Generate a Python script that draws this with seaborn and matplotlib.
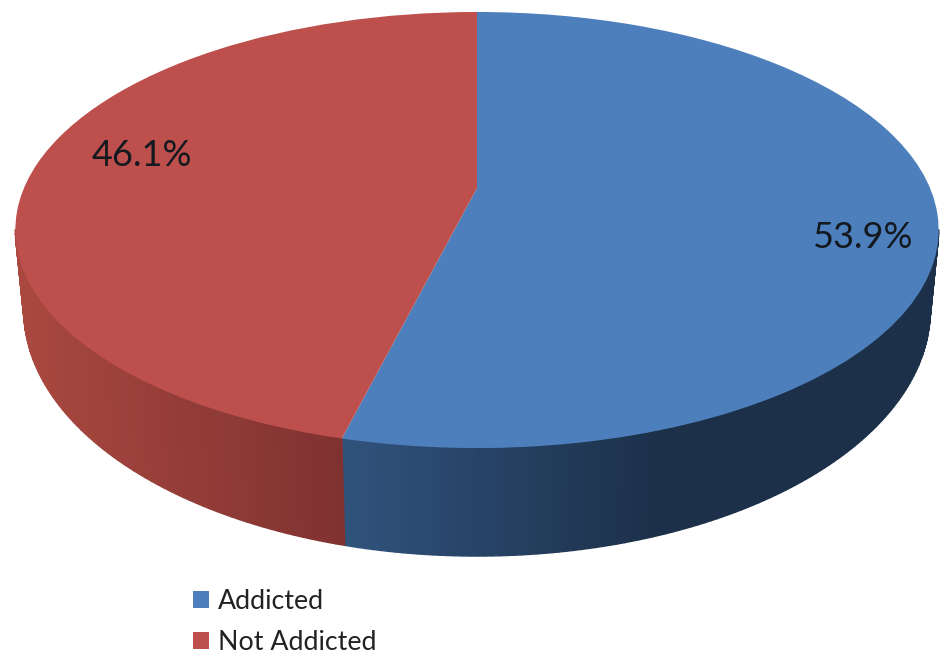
import numpy as np
import matplotlib
matplotlib.use('Agg')
import matplotlib.pyplot as plt
from matplotlib.transforms import Transform
import seaborn as sns

# Chart data
categories = ['Addicted', 'Not Addicted']
shares = [53.9, 46.1]
top_colors = ['#4c7fbb', '#bd4f4c']
# wall shading, near the front seam -> far from it
wall_colors = [['#30537d', '#1c3049'], ['#7f3231', '#a9483f']]


class TiltedDisc(Transform):
    # projective view of the unit disc, gives the office style 3d look
    input_dims = 2
    output_dims = 2

    def __init__(self, cx, k, a, b, c):
        super().__init__()
        self.cx, self.k, self.a, self.b, self.c = cx, k, a, b, c

    def transform_non_affine(self, values):
        u, v = values[:, 0], values[:, 1]
        d = 1 + self.c * v
        return np.column_stack([self.cx + self.k * u / d, (self.a * v + self.b) / d])


sns.set_theme(style='white')
plt.rcParams['font.family'] = ['Lato', 'DejaVu Sans']

fig = plt.figure(figsize=(9.46, 6.56), dpi=100)
ax = fig.add_axes([0, 0, 1, 1])

top_view = TiltedDisc(477, 453, -173.7, 188, 0.1927)
base_view = TiltedDisc(477, 445, -187.1, 263.3, 0.19)

wedges, _ = ax.pie(shares, colors=top_colors, startangle=90, counterclock=False)
for w in wedges:
    w.set_transform(top_view + ax.transData)
    w.set_zorder(5)
    w.set_linewidth(0)

ax.set_aspect('auto')
ax.set_xlim(0, 946)
ax.set_ylim(656, 0)

# side wall, thin strips between the top rim and the base rim
seam = 90 - 360 * shares[0] / sum(shares)
spans = [np.linspace(seam, -11, 120), np.linspace(seam, -169, 70)]
for span, (near, far) in zip(spans, wall_colors):
    near_rgb, far_rgb = np.array(matplotlib.colors.to_rgb(near)), np.array(matplotlib.colors.to_rgb(far))
    seam_x = top_view.transform_non_affine(np.array([[np.cos(np.radians(seam)), np.sin(np.radians(seam))]]))[0, 0]
    for a0, a1 in zip(span[:-1], span[1:]):
        ring = np.radians([a0, a1])
        unit = np.column_stack([np.cos(ring), np.sin(ring)])
        t = top_view.transform_non_affine(unit)
        b = base_view.transform_non_affine(unit)
        f = min(abs(t[:, 0].mean() - seam_x) / 320, 1)
        col = near_rgb + (far_rgb - near_rgb) * f
        ax.fill([t[0, 0], t[1, 0], b[1, 0], b[0, 0]], [t[0, 1], t[1, 1], b[1, 1], b[0, 1]],
                color=col, lw=1.0, zorder=2)

# percent labels
ax.text(862, 238, f'{shares[0]}%', fontsize=26, color='#14181f', ha='center', va='center', zorder=6)
ax.text(142, 155, f'{shares[1]}%', fontsize=26, color='#14181f', ha='center', va='center', zorder=6)

leg = ax.legend(wedges, categories, loc='upper left', bbox_to_anchor=(193 / 946, 1 - 589 / 656),
                frameon=False, fontsize=19.3, handlelength=0.6, handleheight=0.6, handletextpad=0.34,
                labelspacing=0.6, borderpad=0, borderaxespad=0)
for txt in leg.get_texts():
    txt.set_color('#222222')

fig.savefig('out.png', dpi=100, facecolor='white')
